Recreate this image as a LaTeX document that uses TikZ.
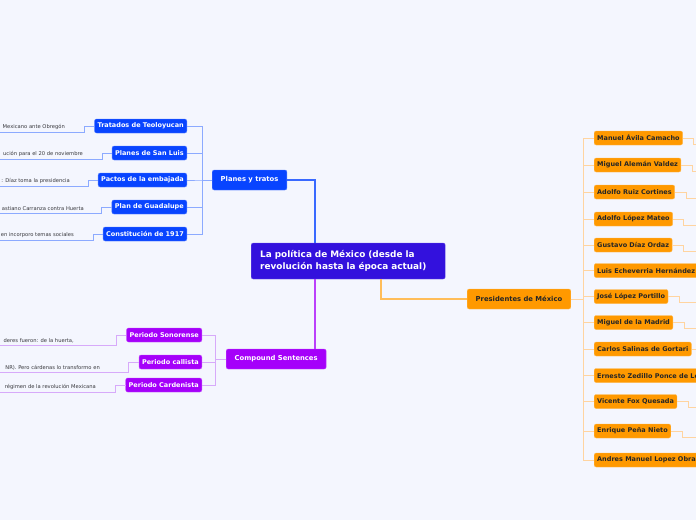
\documentclass[tikz,border=0pt]{standalone}
\usepackage{fontspec}
\setmainfont{DejaVu Sans}
\definecolor{bgcol}{RGB}{244,246,254}
\definecolor{rootcol}{RGB}{51,17,221}
\definecolor{bluecol}{RGB}{8,68,255}
\definecolor{bluelight}{RGB}{140,170,255}
\definecolor{purpcol}{RGB}{165,0,250}
\definecolor{purplight}{RGB}{215,170,250}
\definecolor{orcol}{RGB}{255,153,0}
\definecolor{orlight}{RGB}{255,212,160}
\definecolor{leafcol}{RGB}{55,55,60}
\begin{document}
\begin{tikzpicture}[x=1pt,y=-1pt,
  box/.style={rounded corners=2pt, inner xsep=3pt, inner ysep=0pt, minimum height=14pt,
    font=\bfseries\fontsize{6.5}{7}\selectfont},
  bluebox/.style={box, fill=bluecol, draw=bluecol!70!white, line width=0.4pt, text=white},
  purpbox/.style={box, fill=purpcol, draw=purpcol!70!white, line width=0.4pt, text=white},
  orbox/.style={box, fill=orcol, draw=orcol!70!white, line width=0.4pt, text=black!85},
  topic/.style={box, minimum height=20pt, inner xsep=8.5pt, font=\bfseries\fontsize{6.8}{7}\selectfont},
  leaf/.style={inner sep=2pt, text=leafcol, font=\fontsize{5.2}{6}\selectfont},
  bluelink/.style={draw=bluelight, line width=0.8pt},
  purplink/.style={draw=purplight, line width=0.8pt},
  orlink/.style={draw=orlight, line width=0.8pt}]
  \fill[bgcol] (0,0) rectangle (696,520);
  \useasboundingbox (0,0) rectangle (696,520);
  \clip (0,0) rectangle (696,520);

  \node[anchor=west, fill=rootcol, draw=rootcol!70!white, rounded corners=2pt,
    minimum height=36pt, text width=176pt, inner xsep=9pt, align=left, text=white,
    font=\bfseries\fontsize{8.9}{11.5}\selectfont] (root) at (251,261)
    {La política de México (desde la\\revolución hasta la época actual)};

  \node[bluebox, topic, anchor=west] (pt) at (212,180) {Planes y tratos};
  \node[purpbox, topic, anchor=west] (cmp) at (226,359) {Compound Sentences};
  \node[orbox, topic, anchor=west] (pres) at (467,299) {Presidentes de México};

  \draw[line width=1.1pt, bluecol!80!white] (pt.east) -| ([xshift=64pt]root.north west);
  \draw[line width=1.1pt, purpcol!75!white] ([xshift=64pt]root.south west) -- ([xshift=64pt]root.south west |- cmp.north);
  \draw[line width=1.1pt, orcol!65!white] ([xshift=130pt]root.south west) |- (pres.west);

  \node[bluebox, anchor=east] (tt) at (187,126) {Tratados de Teoloyucan};
  \node[bluebox, anchor=east] (ps) at (187,153) {Planes de San Luis};
  \node[bluebox, anchor=east] (pe) at (187,180) {Pactos de la embajada};
  \node[bluebox, anchor=east] (pg) at (187,207) {Plan de Guadalupe};
  \node[bluebox, anchor=east] (cn) at (187,234) {Constitución de 1917};
  \foreach \n/\e/\l/\t in {tt/67/132/Mexicano ante Obregón,
      ps/85/159/ución para el 20 de noviembre,
      pe/72/186/{: Díaz toma la presidencia},
      pg/86/213/astiano Carranza contra Huerta,
      cn/76/240/en incorporo temas sociales}
  {
    \coordinate (\n-e) at (0,\l);
    \draw[bluelink] (pt.west) -- ++(-10,0) |- (\n.east);
    \draw[bluelink] (\n.west) -- ++(-10,0) |- (\n-e);
    \node[leaf, anchor=south east] (\n-t) at (\e,\l) {\t};
  }

  \node[purpbox, anchor=east] (ss) at (202,335) {Periodo Sonorense};
  \node[purpbox, anchor=east] (cl) at (202,362) {Periodo callista};
  \node[purpbox, anchor=east] (cd) at (202,385) {Periodo Cardenista};
  \foreach \n/\e/\l/\t in {ss/76/345/{deres fueron: de la huerta,},
      cl/102/372/{NR). Pero cárdenas lo transformo en},
      cd/98/392/{régimen de la revolución Mexicana}}
  {
    \coordinate (\n-e) at (0,\l);
    \draw[purplink] (cmp.west) -- ++(-11,0) |- (\n.east);
    \draw[purplink] (\n.west) -- ++(-10,0) |- (\n-e);
    \node[leaf, anchor=south east] (\n-t) at (\e,\l) {\t};
  }

  \foreach \n/\y/\t in {ma/138/Manuel Ávila Camacho, mv/165/Miguel Alemán Valdez,
      ar/192/Adolfo Ruiz Cortines, al/219/Adolfo López Mateo,
      gd/245/Gustavo Díaz Ordaz, le/270.5/Luis Echeverria Hernández,
      jl/296.5/José López Portillo, mm/322.5/Miguel de la Madrid,
      sg/349/Carlos Salinas de Gortari, ez/375.5/Ernesto Zedillo Ponce de León,
      vf/401.5/Vicente Fox Quesada, ep/431/Enrique Peña Nieto,
      am/460/Andres Manuel Lopez Obrador}
  {
    \node[orbox, anchor=west] (\n) at (594,\y) {\t};
    \draw[orlink] (pres.east) -- ++(12,0) |- (\n.west);
  }
  \foreach \n/\y in {ma/138,mv/165,ar/192,al/219,gd/245,jl/296.5,mm/322.5,sg/349,vf/401.5,ep/431}
  {
    \coordinate (\n-e) at (700,\y+6);
    \draw[orlink] (\n.east) -- ++(11,0) |- (\n-e);
  }
\end{tikzpicture}
\end{document}
